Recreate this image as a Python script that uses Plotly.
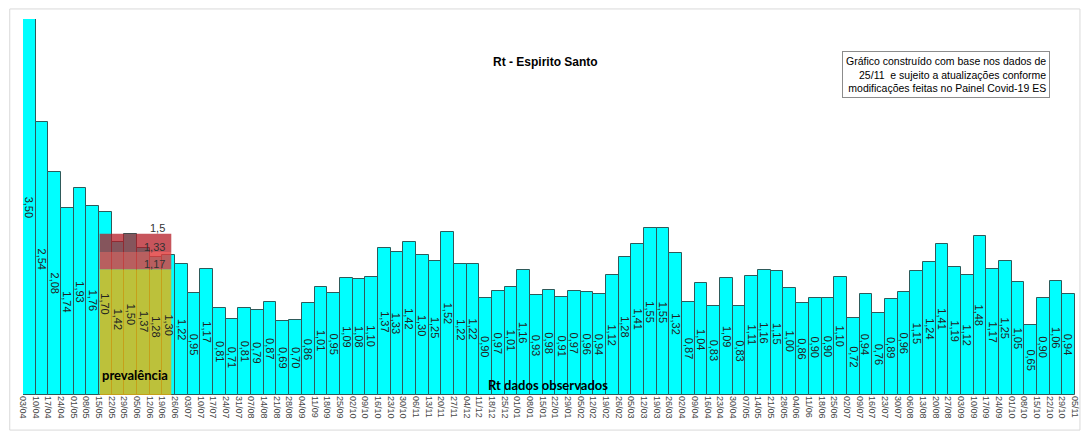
import plotly.graph_objects as go

dates = ["03/04","10/04","17/04","24/04","01/05","08/05","15/05","22/05","29/05","05/06",
         "12/06","19/06","26/06","03/07","10/07","17/07","24/07","31/07","07/08","14/08",
         "21/08","28/08","04/09","11/09","18/09","25/09","02/10","09/10","16/10","23/10",
         "30/10","06/11","13/11","20/11","27/11","04/12","11/12","18/12","25/12","01/01",
         "08/01","15/01","22/01","29/01","05/02","12/02","19/02","26/02","05/03","12/03",
         "19/03","26/03","02/04","09/04","16/04","23/04","30/04","07/05","14/05","21/05",
         "28/05","04/06","11/06","18/06","25/06","02/07","09/07","16/07","23/07","30/07",
         "06/08","13/08","20/08","27/08","03/09","10/09","17/09","24/09","01/10","08/10",
         "15/10","22/10","29/10","05/11"]

rt_values = [3.50,2.54,2.08,1.74,1.93,1.76,1.70,1.42,1.50,1.37,
             1.28,1.30,1.22,0.95,1.17,0.81,0.71,0.81,0.79,0.87,
             0.69,0.70,0.86,1.01,0.95,1.09,1.08,1.10,1.37,1.33,
             1.42,1.30,1.25,1.52,1.22,1.22,0.90,0.97,1.01,1.16,
             0.93,0.98,0.91,0.97,0.96,0.94,1.12,1.28,1.41,1.55,
             1.55,1.32,0.87,1.04,0.83,1.09,0.83,1.11,1.16,1.15,
             1.00,0.86,0.90,0.90,1.10,0.72,0.94,0.76,0.89,0.96,
             1.15,1.24,1.41,1.19,1.12,1.48,1.17,1.25,1.05,0.65,
             0.90,1.06,0.94]

prev_levels = [1.17, 1.33, 1.5]
prev_start, prev_end = 6.05, 11.7

xpos = [i + 0.5 for i in range(len(rt_values))]

fig = go.Figure()
fig.add_trace(go.Bar(
    x=xpos, y=rt_values, width=1,
    marker=dict(color="#00FFFF", line=dict(color="#2e5a5a", width=1)),
    hoverinfo="skip", showlegend=False,
))

FONT = "Liberation Sans, Arial, sans-serif"

shapes = [
    dict(type="rect", xref="paper", yref="paper", x0=-0.0126, x1=1.0047, y0=-0.0933, y1=1.0267,
         line=dict(color="#d9d9d9", width=1), fillcolor="rgba(0,0,0,0)", layer="below"),
]
band_colors = ["rgba(235,178,10,0.8)", "rgba(225,60,60,0.82)", "rgba(180,25,35,0.74)"]
lo = 0
for lvl, col in zip(prev_levels, band_colors):
    shapes.append(dict(type="rect", xref="x", yref="y", x0=prev_start, x1=prev_end, y0=lo, y1=lvl,
                       line=dict(width=0), fillcolor=col, layer="above"))
    lo = lvl

annotations = []
for x, v in zip(xpos, rt_values):
    annotations.append(dict(x=x, y=v / 2, xref="x", yref="y", text=f"{v:.2f}".replace(".", ","),
                            showarrow=False, textangle=90, font=dict(family=FONT, size=11, color="#222222")))

level_y = [1.22, 1.378, 1.555]
for lvl, yy in zip(prev_levels, level_y):
    txt = (f"{lvl:.2f}" if lvl != 1.5 else "1.5").replace(".", ",")
    annotations.append(dict(x=11.4, y=yy, xref="x", yref="y", text=txt, showarrow=False,
                            xanchor="right", font=dict(family=FONT, size=11, color="#333333")))

annotations += [
    dict(x=41.2, y=3.10, xref="x", yref="y", text="<b>Rt - Espirito Santo</b>", showarrow=False,
         font=dict(family=FONT, size=12, color="#000000")),
    dict(x=6.05, y=0.19, xref="x", yref="y", text="<b>prevalência</b>", showarrow=False, xanchor="left",
         font=dict(family="Lato, sans-serif", size=13, color="#000000")),
    dict(x=41.4, y=0.09, xref="x", yref="y", text="<b>Rt dados observados</b>", showarrow=False,
         font=dict(family="Lato, sans-serif", size=13, color="#000000")),
    dict(x=72.8, y=2.98, xref="x", yref="y",
         text="Gráfico construído com base nos dados de<br>25/11  e sujeito a atualizações conforme<br>modificações feitas no Painel Covid-19 ES",
         showarrow=False, align="right", bordercolor="#8c8c8c", borderwidth=1, borderpad=3, bgcolor="#ffffff",
         font=dict(family=FONT, size=10.5, color="#000000")),
]

fig.update_layout(
    width=1090, height=433,
    margin=dict(l=23, r=10, t=19, b=38),
    paper_bgcolor="white", plot_bgcolor="white",
    bargap=0, shapes=shapes, annotations=annotations,
    xaxis=dict(range=[0, len(rt_values)], tickmode="array", tickvals=list(range(len(dates))), ticktext=dates,
               tickangle=90, tickfont=dict(family=FONT, size=9, color="#444444"),
               showgrid=False, zeroline=False, showline=False, ticks=""),
    yaxis=dict(range=[0, 3.5], visible=False, showgrid=False, zeroline=False),
)

fig.write_html("out.html", config={"displayModeBar": False},
               post_script="document.body.style.margin='0';document.body.style.overflow='hidden';")
